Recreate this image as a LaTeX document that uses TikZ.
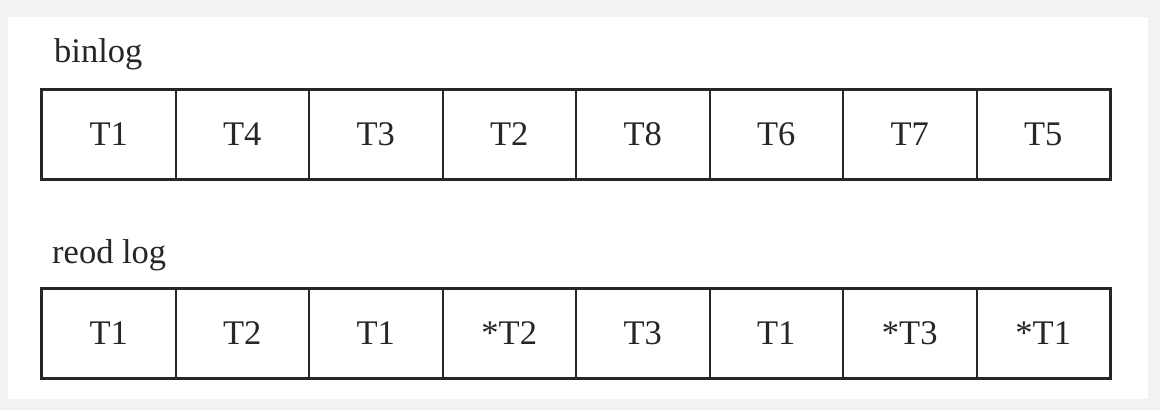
\documentclass[tikz,border=0pt]{standalone}
\usepackage{fontspec}
\setmainfont{Liberation Serif}
\begin{document}
\begin{tikzpicture}[x=1pt,y=-1pt,
  cell/.style={draw=black!85, line width=2pt, minimum width=133.5pt, minimum height=89pt, inner sep=0pt, anchor=north west, font=\fontsize{34.5}{38}\selectfont, text=black!85},
  frame/.style={draw=black!85, line width=2.6pt},
  title/.style={anchor=base west, inner sep=0pt, font=\fontsize{34.5}{38}\selectfont, text=black!85}]
\fill[black!5] (0,0) rectangle (1160,410);
\useasboundingbox (0,0) rectangle (1160,410);
\fill[white] (8,17) rectangle (1148,399);
\node[title] (binlog) at (54,62) {binlog};
\node[title] (redo) at (52,263) {reod log};
\foreach \t [count=\i from 0] in {T1,T4,T3,T2,T8,T6,T7,T5}
  \node[cell] (b\i) at (41+133.5*\i,89) {\t};
\foreach \t [count=\i from 0] in {T1,T2,T1,*T2,T3,T1,*T3,*T1}
  \node[cell] (r\i) at (41+133.5*\i,288) {\t};
\draw[frame] (b0.north west) rectangle (b7.south east);
\draw[frame] (r0.north west) rectangle (r7.south east);
\end{tikzpicture}
\end{document}
